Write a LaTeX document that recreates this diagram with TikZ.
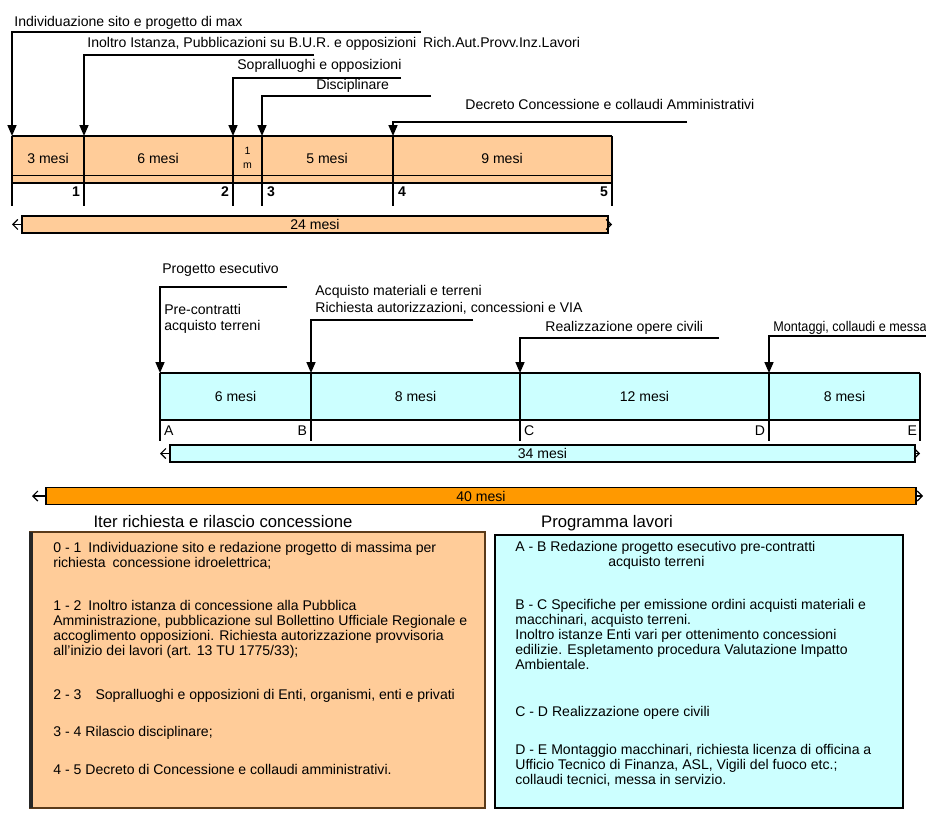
\documentclass[tikz,border=0pt]{standalone}
\usepackage{fontspec}
\setmainfont{Liberation Sans}
\usetikzlibrary{arrows.meta,positioning}
\definecolor{pesca}{HTML}{FFCC99}
\definecolor{ciano}{HTML}{CCFFFF}
\definecolor{arancio}{HTML}{FF9900}
\definecolor{bordo}{HTML}{5A3A1A}

\begin{document}
\begin{tikzpicture}[x=0.02cm, y=-0.02cm,
  lbl/.style={anchor=base west, inner sep=0pt, font=\fontsize{8}{9}\selectfont},
  seg/.style={inner sep=0pt, align=center, font=\fontsize{8}{9}\selectfont},
  num/.style={anchor=base, inner sep=1pt, font=\fontsize{8}{9}\selectfont\bfseries},
  arr/.style={-{Triangle[length=2.2mm,width=1.8mm]}, line width=0.9pt},
  div/.style={line width=1.2pt},
  rule/.style={line width=1.6pt},
  tot/.style={draw, line width=0.7pt, inner sep=0pt, minimum height=0.34cm, font=\fontsize{8}{9}\selectfont},
  tip/.style={-{Straight Barb[length=1mm,width=2mm]}, line width=0.7pt},
  note/.style={anchor=north west, align=left, inner sep=0pt, font=\fontsize{8}{8.6}\selectfont},
  ttl/.style={anchor=base, inner sep=0pt, font=\fontsize{9.5}{11}\selectfont}]
\useasboundingbox (0,0) rectangle (926,814);
\clip (0,0) rectangle (926,814);

% prima fase: concessione
\foreach \n/\x in {0/12,1/84,2/233,3/262,4/393,5/612} \coordinate (t\n) at (\x,136);
\fill[pesca] (t0) rectangle (612,183);
\draw[thin] (12,175) -- (612,175);
\draw[rule] (t0) -- (t5);
\draw[rule] (12,183) -- (612,183);
\foreach \n in {0,...,5} \draw[div] (t\n) -- ++(0,70);
\node[seg] (s1) at (48,158) {3 mesi};
\node[seg] (s2) at (158,158) {6 mesi};
\node[seg, font=\fontsize{6}{8}\selectfont] (s3) at (247.5,158) {1\\m};
\node[seg] (s4) at (327,158) {5 mesi};
\node[seg] (s5) at (502,158) {9 mesi};
\node[num, anchor=base east] (k1) at (82,197) {1};
\node[num, anchor=base east] (k2) at (231,197) {2};
\node[num, anchor=base west] (k3) at (265,197) {3};
\node[num, anchor=base west] (k4) at (396,197) {4};
\node[num, anchor=base east] (k5) at (610,197) {5};

\node[lbl] (l1) at (14,27) {Individuazione sito e progetto di max};
\node[lbl] (l2) at (87,48) {Inoltro Istanza, Pubblicazioni su B.U.R. e opposizioni\enspace Rich.Aut.Provv.Inz.Lavori};
\node[lbl] (l3) at (237,70) {Sopralluoghi e opposizioni};
\node[lbl] (l4) at (316,90) {Disciplinare};
\node[lbl] (l5) at (465,110) {Decreto Concessione e collaudi Amministrativi};
\coordinate (e1) at (421,32);
\coordinate (e2) at (314,55);
\coordinate (e3) at (401,78);
\coordinate (e4) at (431,96);
\coordinate (e5) at (687,122);
\foreach \i/\j in {1/0,2/1,3/2,4/3,5/4} \draw[arr] (e\i) -| (t\j);

\node[tot, fill=pesca, minimum width=11.72cm] (d24) at (315,224.5) {24 mesi};
\draw[tip] (d24.west) -- (t0 |- d24);
\draw[tip] (d24.east) -- (t5 |- d24);

% seconda fase: lavori
\foreach \n/\x in {0/160,1/311,2/520,3/769,4/920} \coordinate (b\n) at (\x,373);
\fill[ciano] (b0) rectangle (920,420);
\draw[rule] (b0) -- (b4);
\draw[rule] (160,420) -- (920,420);
\foreach \n in {0,...,4} \draw[div] (b\n) -- ++(0,68);
\node[seg] (m1) at (235.5,396) {6 mesi};
\node[seg] (m2) at (415.5,396) {8 mesi};
\node[seg] (m3) at (644.5,396) {12 mesi};
\node[seg] (m4) at (844.5,396) {8 mesi};
\node[num, anchor=base west, font=\fontsize{8}{9}\selectfont] (pA) at (162,435) {A};
\node[num, anchor=base east, font=\fontsize{8}{9}\selectfont] (pB) at (309,435) {B};
\node[num, anchor=base west, font=\fontsize{8}{9}\selectfont] (pC) at (522,435) {C};
\node[num, anchor=base east, font=\fontsize{8}{9}\selectfont] (pD) at (767,435) {D};
\node[num, anchor=base east, font=\fontsize{8}{9}\selectfont] (pE) at (919,435) {E};

\node[lbl] (g1) at (162,274) {Progetto esecutivo};
\node[lbl, align=left, anchor=north west] (g1b) at (164,304) {Pre-contratti\\acquisto terreni};
\node[lbl] (g2) at (315,296) {Acquisto materiali e terreni};
\node[lbl] (g2b) at (315,312) {Richiesta autorizzazioni, concessioni e VIA};
\node[lbl] (g3) at (545,331) {Realizzazione opere civili};
\node[lbl] (g4) at (773,331) {\scalebox{0.9}[1]{Montaggi, collaudi e messa}};
\coordinate (f1) at (287,287);
\coordinate (f2) at (473,320);
\coordinate (f3) at (719,338);
\coordinate (f4) at (990,336);
\foreach \i/\j in {1/0,2/1,3/2,4/3} \draw[arr] (f\i) -| (b\j);

\node[tot, fill=ciano, minimum width=14.9cm] (d34) at (542.5,453.5) {34 mesi};
\draw[tip] (d34.west) -- (b0 |- d34);
\draw[tip] (d34.east) -- (b4 |- d34);

% durata complessiva
\coordinate (q0) at (32,496);
\coordinate (q1) at (923,496);
\node[tot, fill=arancio, minimum width=17.4cm] (d40) at (481,496) {40 mesi};
\draw[tip] (d40.west) -- (q0);
\draw[tip] (d40.east) -- (q1);

% legende
\node[ttl] (h1) at (223,527) {Iter richiesta e rilascio concessione};
\node[ttl] (h2) at (607,527) {Programma lavori};

\draw[fill=pesca, draw=bordo, line width=0.8pt] (30,532) rectangle (485,808);
\draw[line width=2pt, black!85] (31,532) -- (31,808);
\node[note] (c1) at (53,542) {0 - 1\enspace Individuazione sito e redazione progetto di massima per\\richiesta\enspace concessione idroelettrica;};
\node[note] (c2) at (53,600) {1 - 2\enspace Inoltro istanza di concessione alla Pubblica\\Amministrazione, pubblicazione sul Bollettino Ufficiale Regionale e\\accoglimento opposizioni. Richiesta autorizzazione provvisoria\\all'inizio dei lavori (art. 13 TU 1775/33);};
\node[note] (c3) at (53,689) {2 - 3\quad Sopralluoghi e opposizioni di Enti, organismi, enti e privati};
\node[note] (c4) at (53,726) {3 - 4 Rilascio disciplinare;};
\node[note] (c5) at (53,764) {4 - 5 Decreto di Concessione e collaudi amministrativi.};

\draw[fill=ciano, line width=1pt] (495,535) rectangle (903,808);
\node[note] (r1) at (515,541) {A - B Redazione progetto esecutivo pre-contratti\\\hspace*{1.86cm}acquisto terreni};
\node[note] (r2) at (515,599) {B - C Specifiche per emissione ordini acquisti materiali e\\macchinari, acquisto terreni.\\Inoltro istanze Enti vari per ottenimento concessioni\\edilizie. Espletamento procedura Valutazione Impatto\\Ambientale.};
\node[note] (r3) at (515,706) {C - D Realizzazione opere civili};
\node[note] (r4) at (515,744) {D - E Montaggio macchinari, richiesta licenza di officina a\\Ufficio Tecnico di Finanza, ASL, Vigili del fuoco etc.;\\collaudi tecnici, messa in servizio.};
\end{tikzpicture}
\end{document}
